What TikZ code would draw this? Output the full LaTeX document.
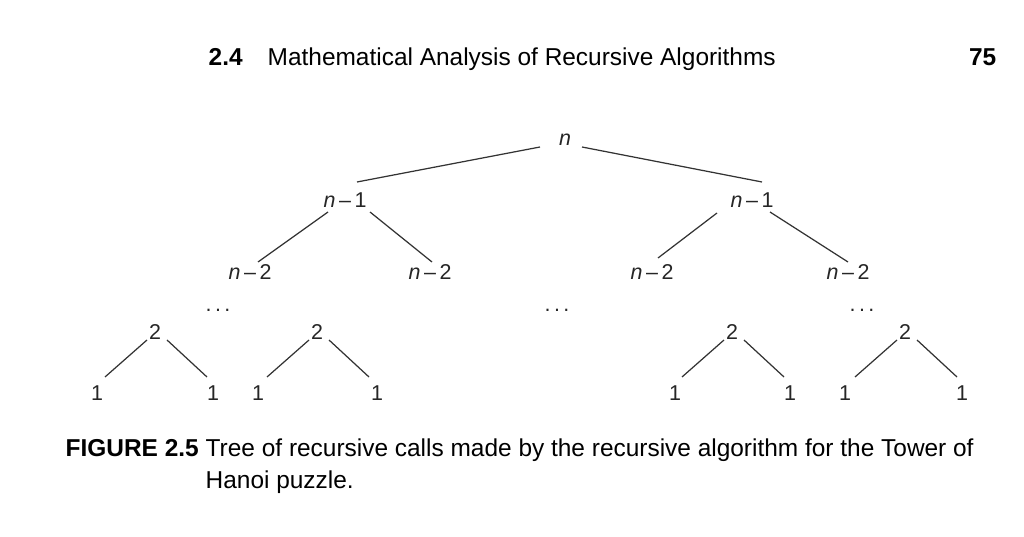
\documentclass[tikz,border=0pt]{standalone}
\usepackage{fontspec}
\setmainfont{Liberation Sans}
\begin{document}
\begin{tikzpicture}[x=0.01cm,y=-0.01cm,
  lab/.style={inner sep=0pt,font=\fontsize{6.1}{7}\selectfont,text=black!85},
  edge/.style={draw=black!80,line width=0.35pt},
  hdr/.style={inner sep=0pt,font=\fontsize{6.95}{8}\selectfont,anchor=base west}]
\useasboundingbox (0,0) rectangle (1024,537);
\node[hdr] (h1) at (208,66) {\textbf{2.4}};
\node[hdr] (h2) at (267,66) {Mathematical Analysis of Recursive Algorithms};
\node[hdr,anchor=base east] (h3) at (997,66) {\textbf{75}};
\node[lab] (n) at (565,140) {\textit{n}};
\node[lab] (a) at (345,200) {\textit{n}\,–\,1};
\node[lab] (b) at (752,200) {\textit{n}\,–\,1};
\node[lab] (a1) at (250,272) {\textit{n}\,–\,2};
\node[lab] (a2) at (430,272) {\textit{n}\,–\,2};
\node[lab] (b1) at (652,272) {\textit{n}\,–\,2};
\node[lab] (b2) at (848,272) {\textit{n}\,–\,2};
\node[lab] (d1) at (218,310) {.\kern1pt.\kern1pt.};
\node[lab] (d2) at (557,310) {.\kern1pt.\kern1pt.};
\node[lab] (d3) at (862,310) {.\kern1pt.\kern1pt.};
\foreach \i/\x in {1/155,2/317,3/732,4/905}{\node[lab] (t\i) at (\x,332) {2};}
\foreach \i/\x in {1/97,2/213,3/258,4/377,5/675,6/790,7/845,8/962}{\node[lab] (o\i) at (\x,393) {1};}
\draw[edge] (540,147) -- (357,182);
\draw[edge] (582,147) -- (762,182);
\draw[edge] (328,212) -- (258,262);
\draw[edge] (370,212) -- (432,262);
\draw[edge] (717,213) -- (658,258);
\draw[edge] (770,212) -- (848,262);
\foreach \i/\x in {1/155,2/317,3/732,4/905}{
  \draw[edge] (\x-8,340) -- (\x-50,377);
  \draw[edge] (\x+12,340) -- (\x+52,377);}
\node[hdr] (c1) at (65,457) {\textbf{FIGURE 2.5}};
\node[hdr] (c2) at (205,457) {Tree of recursive calls made by the recursive algorithm for the Tower of};
\node[hdr] (c3) at (205,489) {Hanoi puzzle.};
\end{tikzpicture}
\end{document}
